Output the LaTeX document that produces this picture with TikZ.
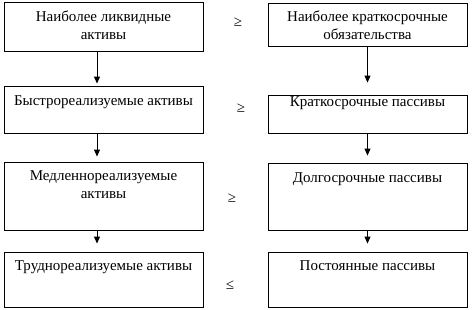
\documentclass[tikz,border=0pt]{standalone}
\usepackage{fontspec}
\setmainfont{Liberation Serif}
\usetikzlibrary{arrows.meta}
\begin{document}
\begin{tikzpicture}[x=1pt,y=-1pt,
  box/.style={draw=black,line width=0.9pt,inner sep=0pt},
  txt/.style={font=\fontsize{15}{18}\selectfont,align=center,anchor=base,inner sep=0pt},
  sign/.style={font=\fontsize{15}{18}\selectfont,inner sep=0pt},
  arr/.style={line width=0.9pt,-{Triangle[length=7pt,width=6pt]}}]
\useasboundingbox (0,0) rectangle (472,309);
% boxes
\node[box,minimum width=199pt,minimum height=49pt] (L1) at (103.5,26.5) {};
\node[box,minimum width=199pt,minimum height=43pt] (R1) at (367.5,24.5) {};
\node[box,minimum width=199pt,minimum height=47pt] (L2) at (103.5,109.5) {};
\node[box,minimum width=199pt,minimum height=38pt] (R2) at (367.5,114) {};
\node[box,minimum width=199pt,minimum height=68pt] (L3) at (103.5,196) {};
\node[box,minimum width=199pt,minimum height=67pt] (R3) at (367.5,196.5) {};
\node[box,minimum width=199pt,minimum height=55pt] (L4) at (103.5,279.5) {};
\node[box,minimum width=199pt,minimum height=55pt] (R4) at (367.5,279.5) {};
% texts (base = baseline of last line)
\node[txt] (tL1) at (103.5,39) {Наиболее ликвидные\\активы};
\node[txt] (tR1) at (367.5,39) {Наиболее краткосрочные\\обязательства};
\node[txt] (tL2) at (103.5,105) {Быстрореализуемые активы};
\node[txt] (tR2) at (367.5,106) {Краткосрочные пассивы};
\node[txt] (tL3) at (103.5,198) {Медленнореализуемые\\активы};
\node[txt] (tR3) at (367.5,182) {Долгосрочные пассивы};
\node[txt] (tL4) at (103.5,270) {Труднореализуемые активы};
\node[txt] (tR4) at (367.5,270) {Постоянные пассивы};
% signs
\node[sign] (s1) at (238,22) {≥};
\node[sign] (s2) at (241,108) {≥};
\node[sign] (s3) at (232,198) {≥};
\node[sign] (s4) at (230,285) {≤};
% arrows
\draw[arr,shorten >=2pt] (L1.south -| 97,0) -- (L2.north -| 97,0);
\draw[arr,shorten >=5pt] (L2.south -| 97,0) -- (L3.north -| 97,0);
\draw[arr,shorten >=8pt] (L3.south -| 97,0) -- (L4.north -| 97,0);
\draw[arr,shorten >=12pt] (R1.south) -- (R2.north);
\draw[arr,shorten >=7pt] (R2.south) -- (R3.north);
\draw[arr,shorten >=8pt] (R3.south) -- (R4.north);
\end{tikzpicture}
\end{document}
